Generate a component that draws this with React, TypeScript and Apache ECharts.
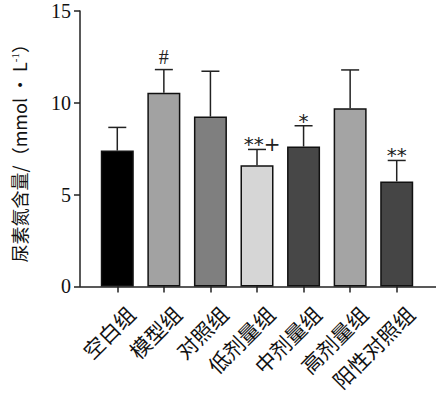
import React, { useEffect, useRef } from "react";
import * as echarts from "echarts";

const categories = ["空白组", "模型组", "对照组", "低剂量组", "中剂量组", "高剂量组", "阳性对照组"];
const means = [7.4, 10.55, 9.25, 6.6, 7.62, 9.7, 5.72];
const errorTops = [8.66, 11.81, 11.72, 7.46, 8.75, 11.79, 6.86];
const marks = ["", "#", "", "**+", "*", "", "**"];
const barColors = ["#000000", "#a2a2a2", "#7f7f7f", "#d6d6d6", "#474747", "#a4a4a4", "#454545"];
const yTicks = [0, 5, 10, 15];

export default function App() {
  const ref = useRef<HTMLDivElement>(null);
  useEffect(() => {
    if (!ref.current) return;
    const chart = echarts.init(ref.current, null, { renderer: "svg" });
    const serif = "'Liberation Serif', 'DejaVu Serif', serif";
    const cjk = "'Noto Sans CJK SC', sans-serif";
    chart.setOption({
      animation: false,
      backgroundColor: "#ffffff",
      grid: { left: 94, right: 16, top: 11, bottom: 107 },
      xAxis: {
        type: "category",
        data: categories,
        axisLine: { show: false },
        axisTick: { show: true, alignWithLabel: true, length: 6, lineStyle: { color: "#222", width: 1.5 } },
        axisLabel: {
          rotate: 45,
          margin: 10,
          fontSize: 21,
          lineHeight: 22,
          verticalAlign: "top",
          padding: [8, 0, 0, 0],
          color: "#111",
          fontFamily: cjk,
          interval: 0,
        },
      },
      yAxis: {
        type: "value",
        min: yTicks[0],
        max: yTicks[yTicks.length - 1],
        interval: 5,
        offset: 14,
        splitLine: { show: false },
        axisLine: { show: true, lineStyle: { color: "#222", width: 1.5 } },
        axisTick: { show: true, length: 6, lineStyle: { color: "#222", width: 1.5 } },
        axisLabel: { fontSize: 20, color: "#111", fontFamily: serif, margin: 9 },
        name: "{main|尿素氮含量/（mmol • L}{sup|-1}{main|）}",
        nameLocation: "middle",
        nameGap: 52,
        nameTextStyle: {
          fontSize: 18,
          color: "#111111",
          fontFamily: cjk,
          rich: {
            main: { fontSize: 18, color: "#111111", fontFamily: cjk },
            sup: { fontSize: 11, verticalAlign: "top", color: "#111111", fontFamily: serif, padding: [0, 0, 8, 0] },
          },
        },
      },
      graphic: [
        { type: "line", shape: { x1: 80, y1: 287, x2: 436, y2: 287 }, style: { stroke: "#222", lineWidth: 1.5 } },
      ],
      series: [
        {
          type: "bar",
          barWidth: 33,
          data: means.map((v, i) => ({ value: v, itemStyle: { color: barColors[i] } })),
          itemStyle: { borderColor: "#111", borderWidth: 1.5 },
          z: 2,
        },
        {
          type: "custom",
          z: 1,
          itemStyle: { color: "#222222" },
          data: means.map((v, i) => [i, v, errorTops[i]]),
          renderItem: (params: any, api: any) => {
            const i = api.value(0);
            const lo = api.coord([i, api.value(1)]);
            const hi = api.coord([i, api.value(2)]);
            const half = 9;
            const mark = marks[params.dataIndex];
            const children: any[] = [
              { type: "line", shape: { x1: lo[0], y1: lo[1], x2: hi[0], y2: hi[1] }, style: { stroke: "#222", lineWidth: 1.5 } },
              { type: "line", shape: { x1: hi[0] - half, y1: hi[1], x2: hi[0] + half, y2: hi[1] }, style: { stroke: "#222", lineWidth: 1.5 } },
            ];
            if (mark) {
              const isHash = mark === "#";
              children.push({
                type: "text",
                x: hi[0] + (mark === "**+" ? 5 : 0),
                y: hi[1] + (isHash ? -3 : 5),
                style: {
                  text: mark,
                  fontSize: isHash ? 20 : 20,
                  fontFamily: isHash ? serif : "'DejaVu Sans', sans-serif",
                  fill: "#222222",
                  align: "center",
                  verticalAlign: "bottom",
                },
              });
            }
            return { type: "group", children };
          },
        },
      ],
    });
    return () => chart.dispose();
  }, []);
  return <div ref={ref} style={{ width: 436, height: 394, position: "absolute", left: 0, top: 0 }} />;
}
